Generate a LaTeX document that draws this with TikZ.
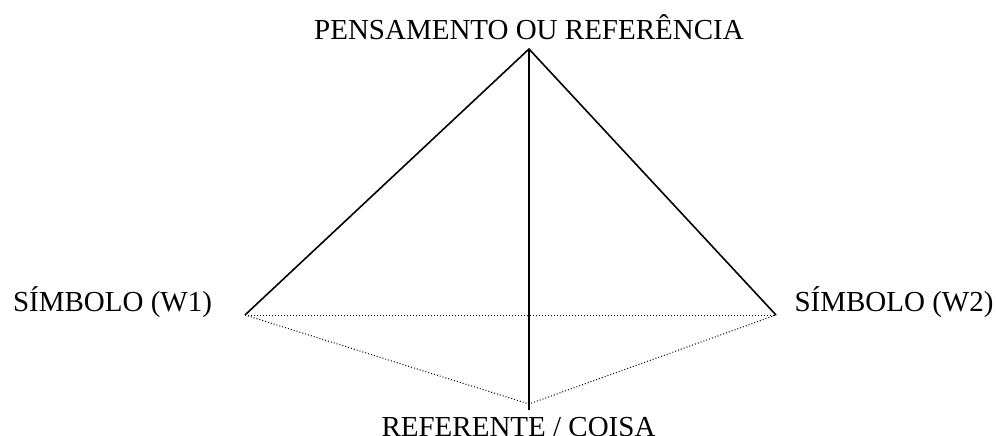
\documentclass[tikz,border=0pt]{standalone}
\usepackage{fontspec}
\setmainfont{Liberation Serif}
\usepackage{tikz}
\usetikzlibrary{arrows.meta}

\begin{document}
\begin{tikzpicture}[x=1pt,y=-1pt,
        etiquette/.style={anchor=base, inner sep=0pt, font=\fontsize{29}{34}\selectfont},
        trait/.style={line width=1.6pt},
        pointille/.style={line width=1pt, dotted}]
        % Cadre de l'image
        \useasboundingbox (0,0) rectangle (997,436);

        % Sommets du triangle
        \coordinate (topo) at (529,49);
        \coordinate (esq) at (245,315);
        \coordinate (dir) at (776,315);
        \coordinate (base) at (529,404);
        \coordinate (fim) at (529,410);

        % Les étiquettes
        \node[etiquette] (pensamento) at (529,39.5) {PENSAMENTO OU REFERÊNCIA};
        \node[etiquette] (simbolo1) at (112.5,311) {SÍMBOLO (W1)};
        \node[etiquette] (simbolo2) at (894,311) {SÍMBOLO (W2)};
        \node[etiquette] (referente) at (518.5,436.5) {REFERENTE / COISA};

        % Les traits pleins
        \draw[trait] (esq) -- (topo) -- (dir);
        \draw[trait] (topo) -- (fim);

        % Les traits pointillés
        \draw[pointille] (esq) -- (dir);
        \draw[pointille] (esq) -- (base) -- (dir);
    \end{tikzpicture}
\end{document}
